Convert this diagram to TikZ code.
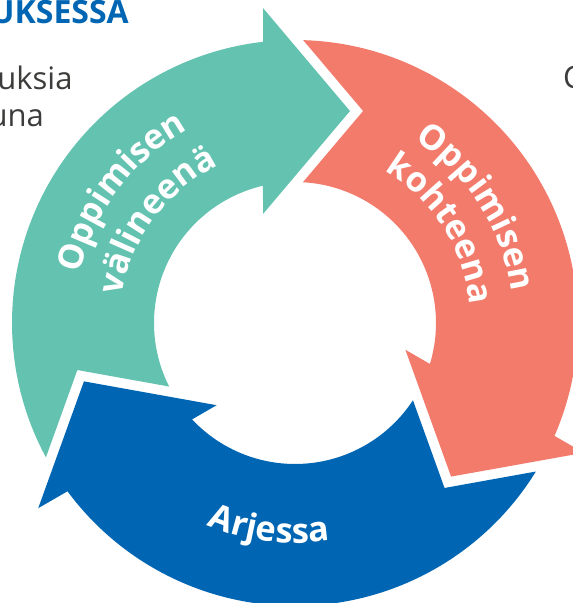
\documentclass[tikz,border=0pt]{standalone}
\usepackage{fontspec}
\setmainfont{Open Sans}
\usetikzlibrary{decorations.text}
\definecolor{tealarrow}{HTML}{63C2B0}
\definecolor{salmonarrow}{HTML}{F37B6B}
\definecolor{bluearrow}{HTML}{0066B3}
\definecolor{bodygray}{HTML}{3C3C3B}
\newcommand{\ringfont}{\fontsize{34.5}{40}\selectfont\bfseries}
\tikzset{ringtext/.style={decorate, decoration={text along path, text align=center, text color=white}}}
\begin{document}
\begin{tikzpicture}[x=1pt, y=1pt]
    \useasboundingbox (-295,-280) rectangle (278,323);
    \path (95.80:316.6) coordinate (TB) (75.46:219) coordinate (TT) (106.36:113.6) coordinate (TI);
    \path (-24.20:316.6) coordinate (SB) (-44.54:219) coordinate (ST) (-13.64:113.6) coordinate (SI);
    \path (215.80:316.6) coordinate (BB) (195.46:219) coordinate (BT) (226.36:113.6) coordinate (BI);
    \path (72.19:222.67) coordinate (SN) (312.19:222.67) coordinate (BN) (192.19:222.67) coordinate (TN);
    \fill[tealarrow] (208.34:283) arc[start angle=208.34, end angle=96.49, radius=283] -- (TB) -- (TT) -- (TI) -- (103.12:141) arc[start angle=103.12, end angle=206.78, radius=141] -- (TN) -- cycle;
    \fill[salmonarrow] (88.34:283) arc[start angle=88.34, end angle=-23.51, radius=283] -- (SB) -- (ST) -- (SI) -- (-16.88:141) arc[start angle=-16.88, end angle=86.78, radius=141] -- (SN) -- cycle;
    \fill[bluearrow] (328.34:283) arc[start angle=328.34, end angle=216.49, radius=283] -- (BB) -- (BT) -- (BI) -- (223.12:141) arc[start angle=223.12, end angle=326.78, radius=141] -- (BN) -- cycle;
    \path[ringtext, decoration={text={|\ringfont|Oppimisen}}] (188:221) arc[start angle=188, end angle=98, radius=221];
    \path[ringtext, decoration={text={|\ringfont|välineenä}}] (188.5:175) arc[start angle=188.5, end angle=98.5, radius=175];
    \path[ringtext, decoration={text={|\ringfont|Oppimisen}}] (77.5:219) arc[start angle=77.5, end angle=-12.5, radius=219];
    \path[ringtext, decoration={text={|\ringfont|kohteena}}] (77.8:176) arc[start angle=77.8, end angle=-12.2, radius=176];
    \path[ringtext, decoration={text={|\ringfont|Arjessa}}] (217.8:220) arc[start angle=217.8, end angle=307.8, radius=220];
    \node[anchor=base east, inner sep=0, text=bluearrow, font=\fontsize{32}{38}\selectfont\bfseries] (heading) at (-166,299.5) {UKSESSA};
    \node[anchor=base east, inner sep=0, text=bodygray, font=\fontsize{31}{37}\selectfont] (lineone) at (-222.3,233.7) {uksia};
    \node[anchor=base east, inner sep=0, text=bodygray, font=\fontsize{31}{37}\selectfont] (linetwo) at (-251,196.3) {una};
    \node[anchor=base west, inner sep=0, text=bodygray, font=\fontsize{31}{37}\selectfont] (rightcol) at (268,234.5) {C};
\end{tikzpicture}
\end{document}
